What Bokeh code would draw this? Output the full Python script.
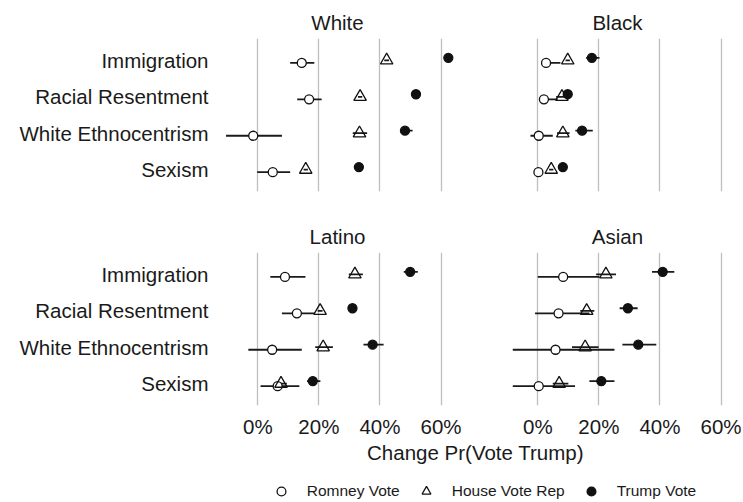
from bokeh.plotting import figure
from bokeh.layouts import column, row
from bokeh.models import (ColumnDataSource, FactorRange, Range1d, FixedTicker,
                          Legend, LegendItem, Label)
from bokeh.transform import dodge
from bokeh.embed import file_html
from bokeh.resources import INLINE

FONT = "Liberation Sans"
TXT = "#1a1a1a"

issues = ["Immigration", "Racial Resentment", "White Ethnocentrism", "Sexism"]
groups = ["White", "Black", "Latino", "Asian"]
x_ticks = [0, 20, 40, 60]
x_tick_labels = ["0%", "20%", "40%", "60%"]
series_names = ["Romney Vote", "House Vote Rep", "Trump Vote"]
x_title = "Change Pr(Vote Trump)"

# ---- White ----
white_romney = [14.4, 16.8, -1.5, 4.9]
white_romney_lo = [10.6, 12.9, -10.4, -0.2]
white_romney_hi = [18.5, 20.9, 7.9, 10.6]
white_house = [42.2, 33.5, 33.3, 15.7]
white_house_lo = [41.4, 32.8, 31.1, 15.0]
white_house_hi = [43.0, 34.2, 35.8, 16.4]
white_trump = [62.4, 51.8, 48.2, 33.1]
white_trump_lo = [61.7, 51.1, 46.7, 32.4]
white_trump_hi = [63.1, 52.5, 50.7, 33.8]

# ---- Black ----
black_romney = [2.7, 2.0, 0.3, 0.2]
black_romney_lo = [1.1, 0.8, -2.4, -0.4]
black_romney_hi = [7.4, 6.5, 4.9, 0.8]
black_house = [9.8, 7.9, 8.2, 4.4]
black_house_lo = [9.1, 6.0, 6.3, 3.7]
black_house_hi = [10.5, 9.0, 10.4, 5.1]
black_trump = [17.7, 9.8, 14.5, 8.2]
black_trump_lo = [15.8, 9.1, 12.3, 7.5]
black_trump_hi = [20.2, 10.5, 18.0, 8.9]

# ---- Latino ----
latino_romney = [8.9, 12.8, 4.7, 6.5]
latino_romney_lo = [4.1, 7.9, -3.1, 0.9]
latino_romney_hi = [15.6, 18.5, 14.4, 13.6]
latino_house = [31.8, 20.4, 21.4, 7.6]
latino_house_lo = [29.8, 19.6, 18.8, 6.0]
latino_house_hi = [34.4, 21.2, 24.6, 9.5]
latino_trump = [49.9, 31.0, 37.6, 18.0]
latino_trump_lo = [47.8, 30.3, 34.6, 16.1]
latino_trump_hi = [52.4, 31.7, 41.2, 20.5]

# ---- Asian ----
asian_romney = [8.3, 6.8, 5.8, 0.3]
asian_romney_lo = [0.0, -0.9, -8.2, -8.2]
asian_romney_hi = [20.2, 16.9, 25.1, 12.2]
asian_house = [22.3, 16.0, 15.5, 7.0]
asian_house_lo = [19.1, 13.9, 11.2, 4.9]
asian_house_hi = [25.6, 18.5, 19.9, 10.0]
asian_trump = [40.9, 29.5, 32.9, 20.8]
asian_trump_lo = [37.4, 26.8, 27.7, 16.9]
asian_trump_hi = [44.7, 32.7, 38.8, 25.1]

panel_data = {
    "White": [(white_romney, white_romney_lo, white_romney_hi),
              (white_house, white_house_lo, white_house_hi),
              (white_trump, white_trump_lo, white_trump_hi)],
    "Black": [(black_romney, black_romney_lo, black_romney_hi),
              (black_house, black_house_lo, black_house_hi),
              (black_trump, black_trump_lo, black_trump_hi)],
    "Latino": [(latino_romney, latino_romney_lo, latino_romney_hi),
               (latino_house, latino_house_lo, latino_house_hi),
               (latino_trump, latino_trump_lo, latino_trump_hi)],
    "Asian": [(asian_romney, asian_romney_lo, asian_romney_hi),
              (asian_house, asian_house_lo, asian_house_hi),
              (asian_trump, asian_trump_lo, asian_trump_hi)],
}

offsets = [-0.07, 0.0, 0.07]
styles = [
    dict(marker="circle", size=9, fill_color="white", line_color="#111111", line_width=1.3),
    dict(marker="triangle", size=12.5, fill_alpha=0, line_color="#111111", line_width=1.3),
    dict(marker="circle", size=9, fill_color="#111111", line_color="#111111", line_width=1.3),
]


def make_panel(name, width, height, mbl, mbr, mbt, mbb, show_y, show_x):
    p = figure(width=width, height=height,
               x_range=Range1d(-13.2, 65.4),
               y_range=FactorRange(factors=issues[::-1], range_padding=0.1,
                                   range_padding_units="absolute"),
               output_backend="svg", toolbar_location=None,
               min_border_left=mbl, min_border_right=mbr,
               min_border_top=mbt, min_border_bottom=mbb,
               title=name)
    p.outline_line_color = None
    p.background_fill_color = "white"
    p.border_fill_color = "white"
    p.title.align = "center"
    p.title.text_font = FONT
    p.title.text_font_size = "20.5px"
    p.title.text_font_style = "normal"
    p.title.text_color = TXT
    p.title.standoff = 10
    p.ygrid.visible = False
    p.xgrid.ticker = FixedTicker(ticks=x_ticks)
    p.xgrid.grid_line_color = "#BEBEBE"
    p.xgrid.grid_line_width = 1.3

    p.xaxis.ticker = FixedTicker(ticks=x_ticks)
    p.xaxis.major_label_overrides = dict(zip(x_ticks, x_tick_labels))
    for ax in (p.xaxis[0], p.yaxis[0]):
        ax.axis_line_color = None
        ax.major_tick_line_color = None
        ax.minor_tick_line_color = None
        ax.major_tick_out = 0
        ax.major_tick_in = 0
        ax.minor_tick_out = 0
        ax.minor_tick_in = 0
        ax.major_label_text_font = FONT
        ax.major_label_text_font_size = "20.5px"
        ax.major_label_text_color = TXT
    p.xaxis.major_label_standoff = 9
    p.yaxis.major_label_standoff = 9
    p.xaxis.visible = show_x
    p.yaxis.visible = show_y

    srcs = []
    for (pt, lo, hi) in panel_data[name]:
        srcs.append(ColumnDataSource(dict(issue=issues, pt=pt, lo=lo, hi=hi)))
    for src, off in zip(srcs, offsets):
        yy = dodge("issue", off, range=p.y_range)
        p.segment(x0="lo", x1="hi", y0=yy, y1=yy, source=src,
                  line_color="#1a1a1a", line_width=1.8)
    for src, off, st in zip(srcs, offsets, styles):
        yy = dodge("issue", off, range=p.y_range)
        p.scatter(x="pt", y=yy, source=src, **st)
    return p


fW = make_panel("White", 497, 214, 217, 40, 38, 23, True, False)
fB = make_panel("Black", 245, 214, 0, 5, 38, 23, False, False)
fL = make_panel("Latino", 497, 226, 217, 40, 38, 35, True, True)
fA = make_panel("Asian", 245, 226, 0, 5, 38, 35, False, True)

foot = figure(width=742, height=62, x_range=Range1d(0, 1), y_range=Range1d(0, 1),
              output_backend="svg", toolbar_location=None,
              min_border_left=0, min_border_right=0, min_border_top=0, min_border_bottom=0)
foot.axis.visible = False
foot.grid.visible = False
foot.outline_line_color = None
foot.add_layout(Label(x=475, y=50, x_units="screen", y_units="screen", text=x_title,
                      text_align="center", text_baseline="middle",
                      text_font=FONT, text_font_size="20.5px", text_color=TXT))
# legend-only renderers (one NaN row each, so nothing is drawn in the plot area)
leg_rs = []
for st in styles:
    leg_rs.append(foot.scatter(x=[float("nan")], y=[float("nan")], **st))
legend = Legend(items=[LegendItem(label=n, renderers=[r]) for n, r in zip(series_names, leg_rs)],
                orientation="horizontal", location=(269.7, 0),
                padding=0, margin=0, spacing=15, label_standoff=15,
                glyph_width=22, glyph_height=22,
                border_line_color=None, background_fill_alpha=0,
                label_text_font=FONT, label_text_font_size="15.5px",
                label_text_color=TXT)
foot.add_layout(legend)

layout = column(row(fW, fB), row(fL, fA), foot)
open("out.html", "w").write(file_html(layout, INLINE))
